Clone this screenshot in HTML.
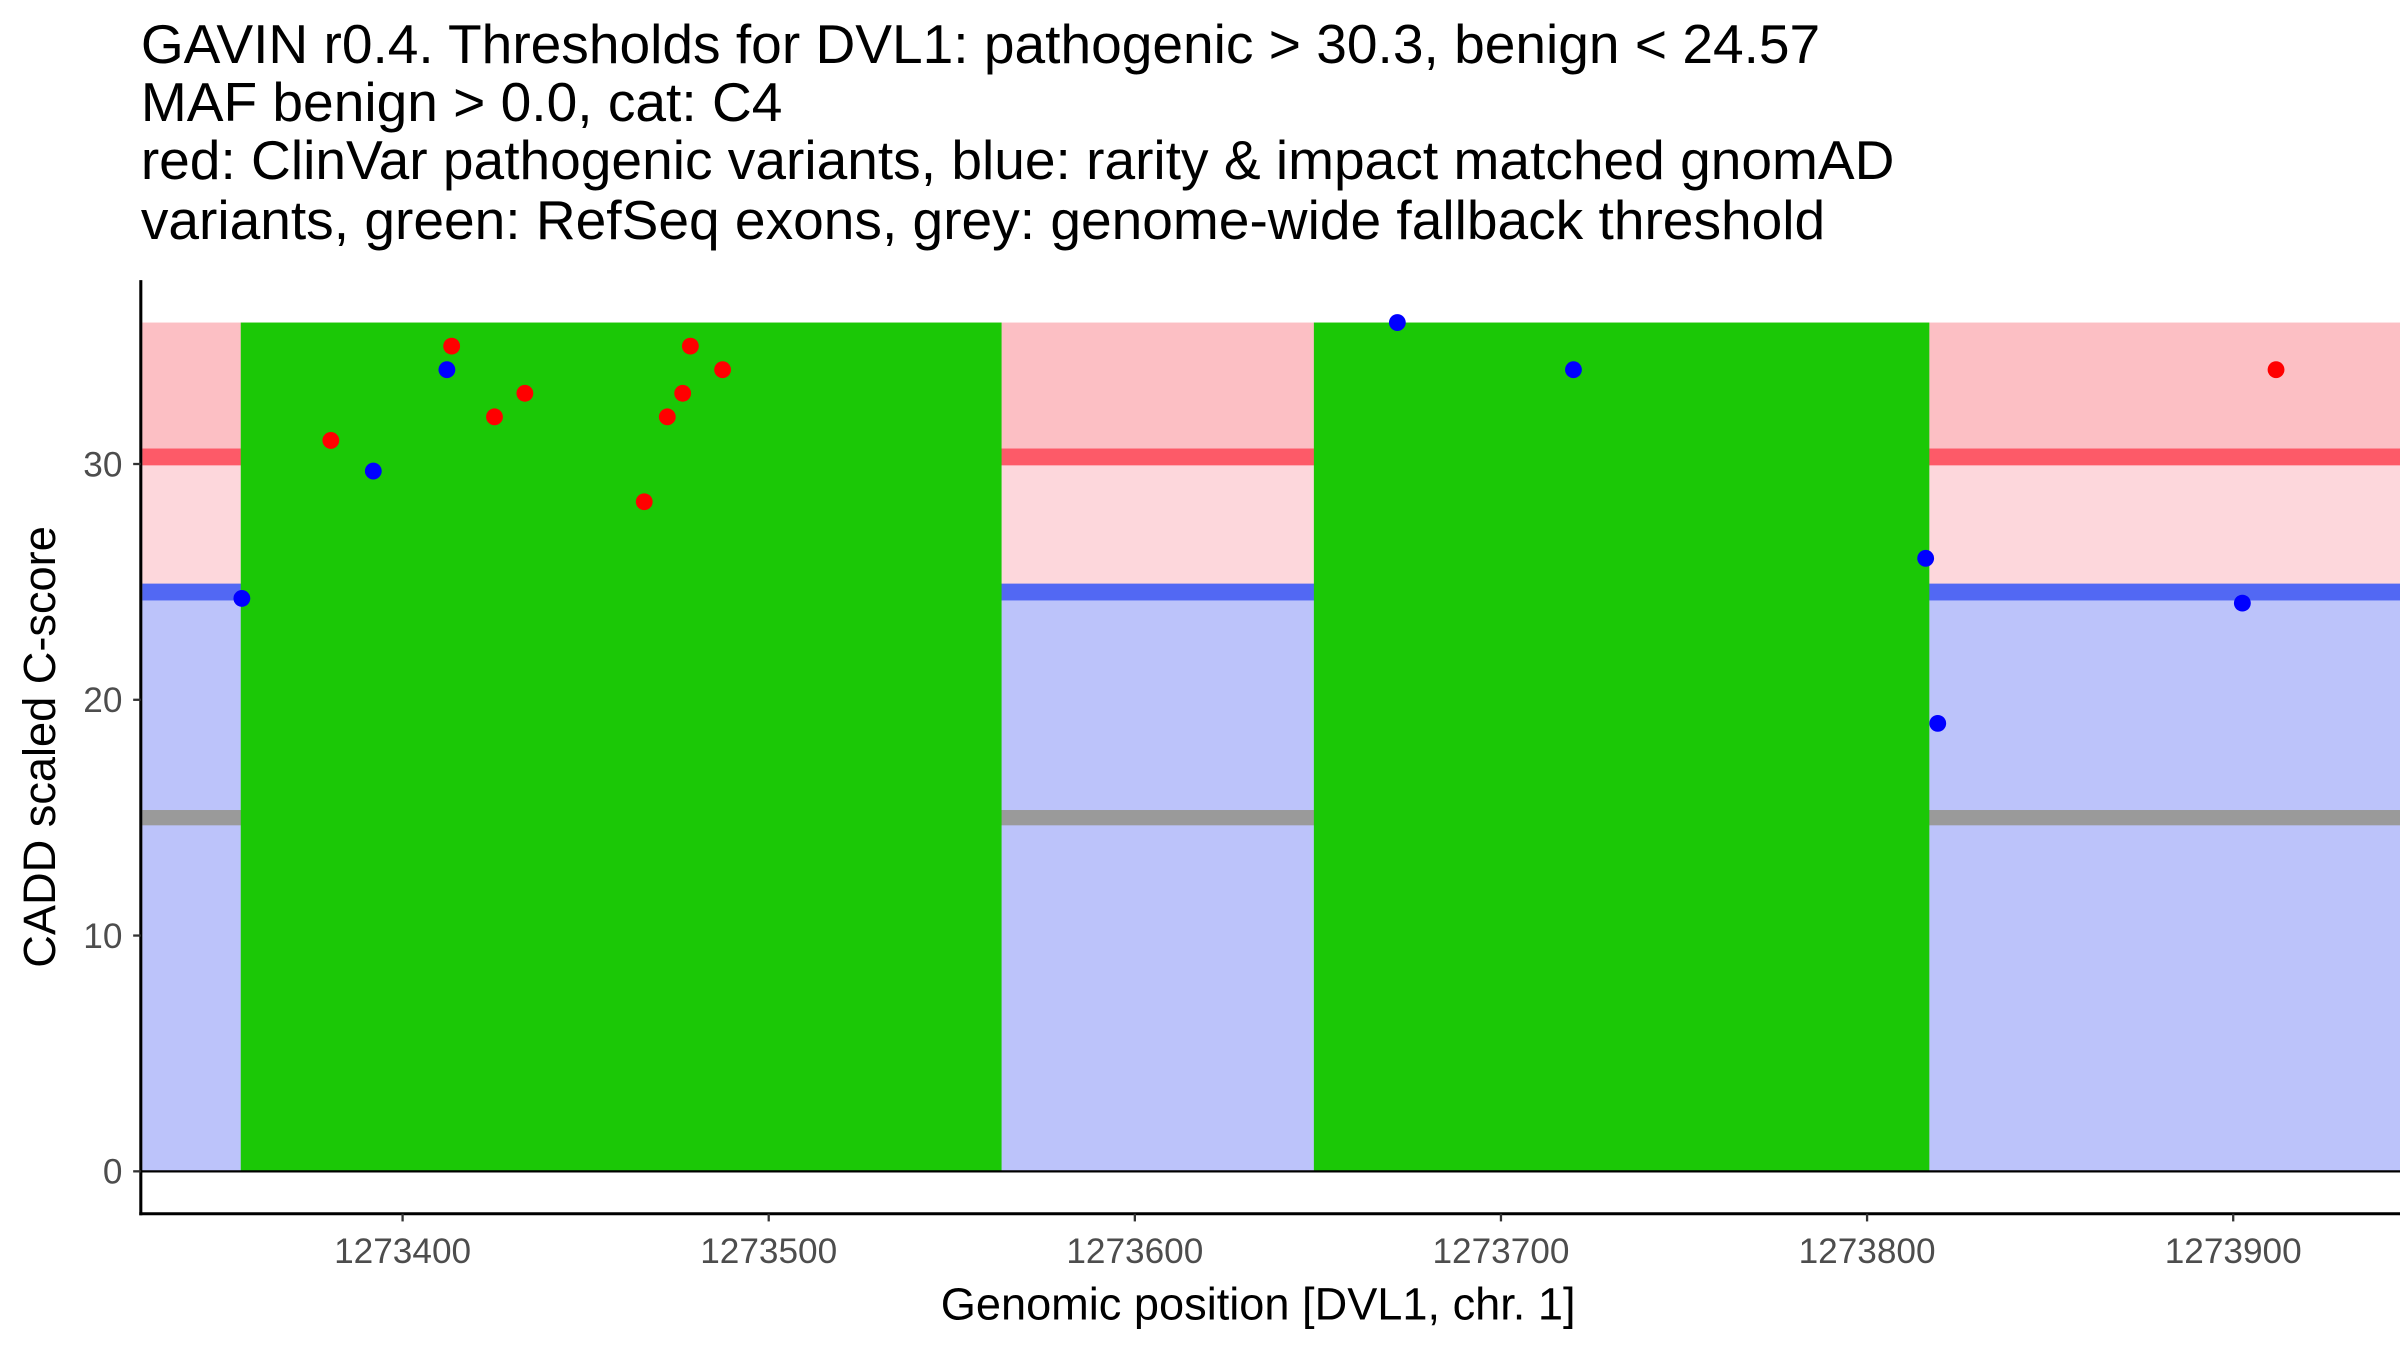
<!DOCTYPE html>
<html><head><meta charset="utf-8"><style>
html,body{margin:0;padding:0;background:#fff;}
svg{display:block;font-family:"Liberation Sans",Arial,sans-serif;}
</style></head><body>
<svg id="chart" width="2400" height="1350" viewBox="0 0 1568 882" preserveAspectRatio="none" xmlns="http://www.w3.org/2000/svg">
<g font-size="36" fill="#000">
<text x="92" y="41">GAVIN r0.4. Thresholds for DVL1: pathogenic &gt; 30.3, benign &lt; 24.57</text>
<text x="92" y="79">MAF benign &gt; 0.0, cat: C4</text>
<text x="92" y="117">red: ClinVar pathogenic variants, blue: rarity &amp; impact matched gnomAD</text>
<text x="92" y="156">variants, green: RefSeq exons, grey: genome-wide fallback threshold</text>
</g>
<g id="bands"></g>
<g id="exons"></g>
<g id="points"></g>
<g id="axes"></g>
<text x="822" y="862" font-size="29.5" text-anchor="middle">Genomic position [DVL1, chr. 1]</text>
<text x="0" y="0" font-size="29.5" text-anchor="middle" transform="translate(36,488) rotate(-90)">CADD scaled C-score</text>
</svg>
<script>
const xTicks = [1273400, 1273500, 1273600, 1273700, 1273800, 1273900];
const yTicks = [0, 10, 20, 30];
const exonStarts = [1273355.8, 1273648.9];
const exonEnds = [1273563.6, 1273817];
const pathogenicThreshold = 30.3;
const benignThreshold = 24.57;
const fallbackThreshold = 15;
const yMaxData = 36;
const redPos = [1273380.4, 1273413.4, 1273425.1, 1273433.4, 1273466, 1273472.3, 1273476.5, 1273478.6, 1273487.4, 1273911.7];
const redScore = [31, 35, 32, 33, 28.4, 32, 33, 35, 34, 34];
const bluePos = [1273356.1, 1273392, 1273412.1, 1273671.7, 1273719.8, 1273816, 1273819.3, 1273902.5];
const blueScore = [24.3, 29.7, 34, 36, 34, 26, 19, 24.1];

const NS = "http://www.w3.org/2000/svg";
const X0 = 92, X1 = 1568, Y0 = 793, Ytop = 183;
const xMin = 1273328.5, xMax = 1273328.5 + (1568 - 92) / 2.392, yMin = -1.8, yMax = 37.8;
function sx(v){ return X0 + (v - xMin) / (xMax - xMin) * (X1 - X0); }
function sy(v){ return Y0 - (v - yMin) / (yMax - yMin) * (Y0 - Ytop); }
function mk(tag, attrs, parent){
  const e = document.createElementNS(NS, tag);
  for (const k in attrs) e.setAttribute(k, attrs[k]);
  parent.appendChild(e);
  return e;
}
const bands = document.getElementById('bands');
const bx = X0 + 1, bw = X1 - bx;
let r;
r = mk('rect', {x: bx, y: sy(yMaxData), width: bw, height: sy(pathogenicThreshold) - sy(yMaxData), fill: '#fcbfc4'}, bands);


r = mk('rect', {x: bx, y: sy(pathogenicThreshold), width: bw, height: sy(benignThreshold) - sy(pathogenicThreshold), fill: '#fdd7dc'}, bands);


r = mk('rect', {x: bx, y: sy(benignThreshold), width: bw, height: sy(0) - sy(benignThreshold), fill: '#bcc3fa'}, bands);


r = mk('rect', {x: bx, y: sy(pathogenicThreshold) - 5.5, width: bw, height: 11, fill: '#fd5a68'}, bands);


r = mk('rect', {x: bx, y: sy(benignThreshold) - 5.5, width: bw, height: 11, fill: '#5268f3'}, bands);


r = mk('rect', {x: bx, y: sy(fallbackThreshold) - 5, width: bw, height: 10, fill: '#9a9a9a'}, bands);



const exons = document.getElementById('exons');
for (let i = 0; i < exonStarts.length; i++) {
  const e = mk('rect', {x: sx(exonStarts[i]), y: sy(yMaxData), width: sx(exonEnds[i]) - sx(exonStarts[i]), height: sy(0) - sy(yMaxData), fill: '#1bc806'}, exons);
  
  
}
const pts = document.getElementById('points');
for (let i = 0; i < bluePos.length; i++) {
  const c = mk('circle', {cx: sx(bluePos[i]), cy: sy(blueScore[i]), r: 5.5, fill: '#0000ff'}, pts);
  
  
}
for (let i = 0; i < redPos.length; i++) {
  const c = mk('circle', {cx: sx(redPos[i]), cy: sy(redScore[i]), r: 5.5, fill: '#ff0000'}, pts);
  
  
}
const axes = document.getElementById('axes');
let l;
l = mk('line', {x1: X0, y1: Ytop, x2: X0, y2: Y0 + 1, stroke: '#000', 'stroke-width': 2}, axes);


l = mk('line', {x1: X0 - 1, y1: Y0, x2: X1, y2: Y0, stroke: '#000', 'stroke-width': 2}, axes);


l = mk('line', {x1: X0, y1: sy(0), x2: X1, y2: sy(0), stroke: '#000', 'stroke-width': 1.5}, axes);


yTicks.forEach(v => {
  const t = mk('line', {x1: X0 - 5, y1: sy(v), x2: X0, y2: sy(v), stroke: '#333', 'stroke-width': 1.5}, axes);
  
  
  const tx = mk('text', {x: X0 - 12, y: sy(v) + 8, 'font-size': 23, fill: '#4d4d4d', 'text-anchor': 'end'}, axes);
  tx.textContent = v;
  
  
});
xTicks.forEach(v => {
  const t = mk('line', {x1: sx(v), y1: Y0, x2: sx(v), y2: Y0 + 5, stroke: '#333', 'stroke-width': 1.5}, axes);
  
  
  const tx = mk('text', {x: sx(v), y: Y0 + 32, 'font-size': 23, fill: '#4d4d4d', 'text-anchor': 'middle'}, axes);
  tx.textContent = v;
  
  
});
</script>
</body></html>
